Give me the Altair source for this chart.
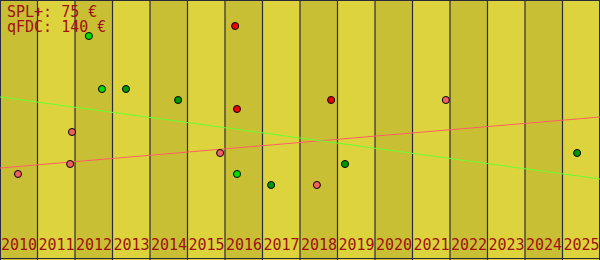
import altair as alt
import pandas as pd

# ---- data ----
years = list(range(2010, 2026))
col_colors = ["#C9BF35", "#DDD43D"]

legend_names = ["SPL+", "qFDC"]
legend_prices = [75, 140]

spl_x = [2010.48, 2011.87, 2011.92, 2015.87, 2016.27, 2016.32, 2018.45, 2018.83, 2021.89]
spl_y = [43, 48, 64, 53.5, 117, 75.5, 37.5, 80, 80]
spl_kind = ["b", "b", "b", "b", "a", "a", "b", "a", "b"]

qfdc_x = [2012.37, 2012.72, 2013.36, 2014.75, 2016.32, 2017.23, 2019.2, 2025.39]
qfdc_y = [112, 85.5, 85.5, 80, 43, 37.5, 48, 53.5]
qfdc_kind = ["c", "c", "d", "d", "c", "d", "d", "d"]

trend_x = [2010, 2026]
spl_trend = [46, 71.5]
qfdc_trend = [81.5, 40.5]

kind_domain = ["a", "b", "c", "d"]
kind_colors = ["#EE0000", "#F06060", "#00DD00", "#009900"]

# ---- tables ----
cols = pd.DataFrame({
    "year": years,
    "year_end": [y + 1 for y in years],
    "shade": [col_colors[i % 2] for i in range(len(years))],
})
points = pd.DataFrame({
    "x": spl_x + qfdc_x,
    "y": spl_y + qfdc_y,
    "kind": spl_kind + qfdc_kind,
})
trends = pd.DataFrame({
    "x": trend_x + trend_x,
    "y": spl_trend + qfdc_trend,
    "series": ["SPL+"] * 2 + ["qFDC"] * 2,
})
legend_text = "\n".join(f"{n}: {p} €" for n, p in zip(legend_names, legend_prices))

xs = alt.Scale(domain=[2010, 2026], nice=False, zero=False)
ys = alt.Scale(domain=[0, 130], nice=False, zero=False)
mono = "DejaVu Sans Mono"
text_color = "#A01010"
line_color = "#2A2A38"

bg = alt.Chart(cols).mark_rect().encode(
    x=alt.X("year:Q", scale=xs, axis=None),
    x2="year_end:Q",
    y=alt.value(0),
    y2=alt.value(260),
    color=alt.Color("shade:N", scale=None),
)

seps = alt.Chart(pd.DataFrame({"year": years[1:]})).mark_rule(
    color=line_color, strokeWidth=1.2
).encode(
    x=alt.X("year:Q", scale=xs, axis=None),
    y=alt.value(0),
    y2=alt.value(260),
)

# frame around the plot
frame_v = alt.Chart(pd.DataFrame({"year": [2010, 2026]})).mark_rule(
    color=line_color, strokeWidth=2
).encode(
    x=alt.X("year:Q", scale=xs, axis=None),
    y=alt.value(0),
    y2=alt.value(260),
)
frame_top = alt.Chart(pd.DataFrame({"k": [0]})).mark_rule(
    color=line_color, strokeWidth=2
).encode(x=alt.value(0), x2=alt.value(600), y=alt.value(0))
frame_bottom = alt.Chart(pd.DataFrame({"k": [0]})).mark_rule(
    color=line_color, strokeWidth=1
).encode(x=alt.value(0), x2=alt.value(600), y=alt.value(258.5))

lines = alt.Chart(trends).mark_line(strokeWidth=1).encode(
    x=alt.X("x:Q", scale=xs, axis=None),
    y=alt.Y("y:Q", scale=ys, axis=None),
    detail="series:N",
    color=alt.Color("series:N", scale=alt.Scale(domain=["SPL+", "qFDC"],
                                                range=["#FF6060", "#66FF33"]), legend=None),
)

dots = alt.Chart(points).mark_point(
    filled=True, size=50, stroke="black", strokeWidth=1, opacity=1, shape="circle"
).encode(
    x=alt.X("x:Q", scale=xs, axis=None),
    y=alt.Y("y:Q", scale=ys, axis=None),
    fill=alt.Fill("kind:N", scale=alt.Scale(domain=kind_domain, range=kind_colors), legend=None),
)

labels = alt.Chart(pd.DataFrame({"year": years})).mark_text(
    align="left", baseline="alphabetic", font=mono, fontSize=15, color=text_color, dx=1
).encode(
    x=alt.X("year:Q", scale=xs, axis=None),
    y=alt.value(250),
    text="year:N",
)

legend = alt.Chart(pd.DataFrame({"t": [legend_text]})).mark_text(
    align="left", baseline="alphabetic", font=mono, fontSize=15, color=text_color,
    lineBreak="\n", lineHeight=15,
).encode(
    x=alt.value(7),
    y=alt.value(17),
    text="t:N",
)

chart = alt.layer(bg, seps, frame_v, frame_top, frame_bottom, lines, dots, labels, legend).properties(
    width=600, height=260, padding=0, autosize="none"
).configure_view(strokeWidth=0).resolve_scale(color="independent")

chart.save("out.html", embed_options={"renderer": "svg", "actions": False})
